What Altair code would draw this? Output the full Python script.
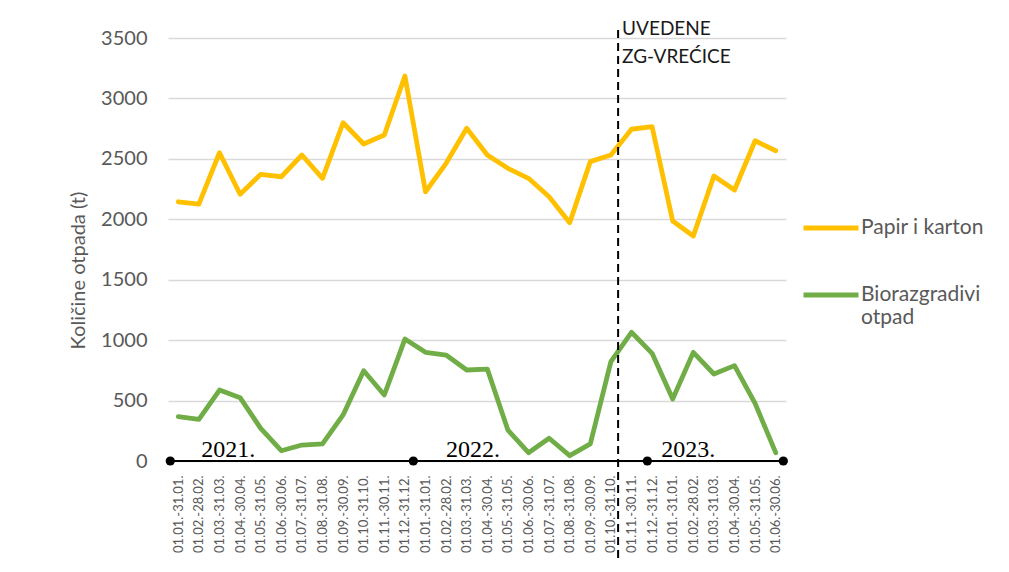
import json
import altair as alt
import pandas as pd

# ---------------- data ----------------
PERIODS_YEAR = ["01.01.-31.01.", "01.02.-28.02.", "01.03.-31.03.", "01.04.-30.04.",
                "01.05.-31.05.", "01.06.-30.06.", "01.07.-31.07.", "01.08.-31.08.",
                "01.09.-30.09.", "01.10.-31.10.", "01.11.-30.11.", "01.12.-31.12."]
PERIOD_LABELS = PERIODS_YEAR + PERIODS_YEAR + PERIODS_YEAR[:6]

PAPIR = [2145, 2125, 2551, 2207, 2372, 2352, 2532, 2339, 2799, 2623, 2697, 3186,
         2228, 2463, 2753, 2532, 2422, 2339, 2187, 1972, 2477, 2532, 2745, 2766,
         1986, 1862, 2358, 2242, 2650, 2567]
BIO = [367, 345, 587, 524, 270, 85, 132, 141, 381, 747, 546, 1009,
       899, 877, 753, 761, 256, 69, 188, 44, 141, 822, 1065, 891,
       513, 899, 720, 789, 477, 69]

SERIES = ["Papir i karton", "Biorazgradivi otpad"]
COLORS = ["#FFC000", "#70AD47"]

YEAR_MARK_IDX = [-0.39, 11.41, 22.77, 29.37]
YEAR_LABELS = ["2021.", "2022.", "2023."]
YEAR_LABEL_IDX = [2.43, 14.3, 24.76]
CHANGE_IDX = 21.35
CHANGE_TEXT = "UVEDENE\nZG-VREĆICE"

# ---------------- frames ----------------
rows = []
for i, (p, b) in enumerate(zip(PAPIR, BIO)):
    rows.append({"idx": i, "value": p, "series": SERIES[0]})
    rows.append({"idx": i, "value": b, "series": SERIES[1]})
df = pd.DataFrame(rows)
df["order"] = df["series"].map({SERIES[0]: 0, SERIES[1]: 1})

marks_df = pd.DataFrame({"idx": YEAR_MARK_IDX, "v": [0] * len(YEAR_MARK_IDX)})
span_df = pd.DataFrame({"x0": [min(YEAR_MARK_IDX)], "x1": [max(YEAR_MARK_IDX)], "v": [0]})
years_df = pd.DataFrame({"idx": YEAR_LABEL_IDX, "label": YEAR_LABELS, "v": [0] * 3})
change_df = pd.DataFrame({"idx": [CHANGE_IDX], "label": [CHANGE_TEXT], "v": [0]})

FONT = "Lato"
GRAY = "#595959"

xscale = alt.Scale(domain=[-0.5, 29.5], nice=False, zero=False)
yscale = alt.Scale(domain=[0, 3500], nice=False)

label_expr = json.dumps(PERIOD_LABELS, ensure_ascii=False) + "[datum.value]"

XAXIS = alt.Axis(values=list(range(30)), labelExpr=label_expr, labelAngle=-90,
                 labelFontSize=13, labelColor=GRAY, labelFont=FONT,
                 labelPadding=14, ticks=False, domain=False, grid=False,
                 labelOverlap=False, labelFlush=False, labelBound=False,
                 labelSeparation=0, title=None)
YAXIS = alt.Axis(values=list(range(0, 3501, 500)), format="d", grid=True,
                 gridColor="#D9D9D9", gridWidth=1.3, domain=False, ticks=False,
                 labelFontSize=20, labelColor=GRAY, labelFont=FONT, labelPadding=21,
                 title="Količine otpada (t)", titleFontSize=20, titleFont=FONT,
                 titleColor=GRAY, titleFontWeight="normal", titlePadding=12,
                 titleY=232)


def X(field):
    return alt.X(field, type="quantitative", scale=xscale, axis=XAXIS)


def Y(field):
    return alt.Y(field, type="quantitative", scale=yscale, axis=YAXIS)


lines = alt.Chart(df).mark_line(strokeWidth=4.8, strokeCap="round", strokeJoin="round").encode(
    x=X("idx"),
    y=Y("value"),
    color=alt.Color("series:N", sort=SERIES,
                    scale=alt.Scale(domain=SERIES, range=COLORS),
                    legend=alt.Legend(
                        title=None, orient="none", legendX=633, legendY=160,
                        symbolType="stroke", symbolSize=3025, symbolStrokeWidth=5,
                        labelFontSize=21, labelFont=FONT, labelColor=GRAY,
                        labelLimit=300, labelOffset=0, rowPadding=27,
                        labelExpr="datum.label == 'Biorazgradivi otpad' ? ['Biorazgradivi', 'otpad'] : datum.label")),
    detail="series:N",
    order="order:Q",
)

span = alt.Chart(span_df).mark_rule(color="black", strokeWidth=2).encode(
    x=X("x0"), x2="x1:Q", y=Y("v"))

dots = alt.Chart(marks_df).mark_circle(color="black", size=85, opacity=1).encode(
    x=X("idx"), y=Y("v"))

years = alt.Chart(years_df).mark_text(font="Liberation Serif", fontSize=24, color="black",
                                      baseline="alphabetic", align="center", dy=-4).encode(
    x=X("idx"), y=Y("v"), text="label:N")

change_rule = alt.Chart(change_df).mark_rule(color="black", strokeWidth=2, strokeDash=[8, 5]).encode(
    x=X("idx"), y=alt.value(-8), y2=alt.value(520))

change_text = alt.Chart(change_df).mark_text(font=FONT, fontSize=19, color="#1a1a1a",
                                             align="left", baseline="alphabetic",
                                             lineBreak="\n", lineHeight=28, dx=4).encode(
    x=X("idx"), y=alt.value(-3), text="label:N")

chart = alt.layer(lines, span, dots, years, change_rule, change_text).properties(
    width=618, height=423,
    autosize=alt.AutoSizeParams(type="none"),
    padding={"left": 160, "top": 30, "right": 215, "bottom": 103},
).configure_view(stroke=None).configure_axisX(labelOverlap=False)

chart.save("out.html", embed_options={"renderer": "svg", "actions": False})
